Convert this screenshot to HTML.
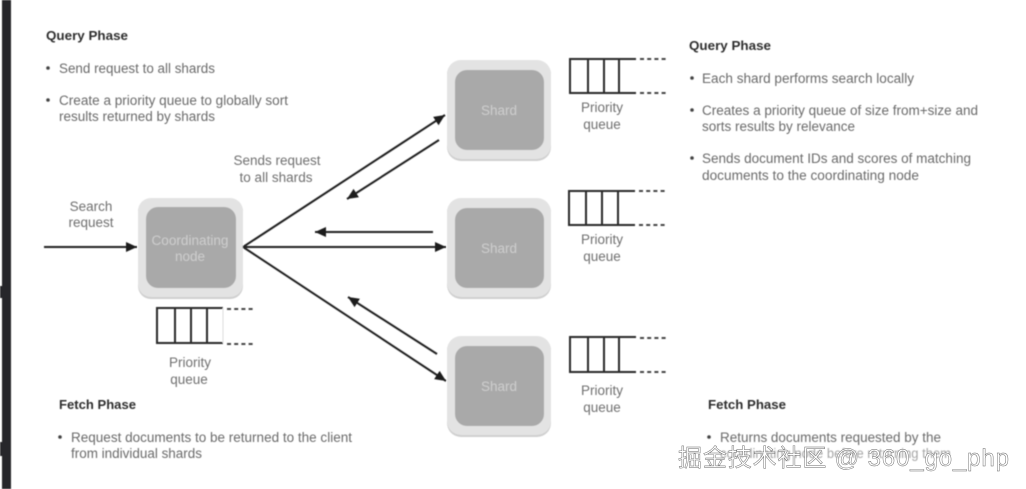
<!DOCTYPE html>
<html><head><meta charset="utf-8"><style>
html,body{margin:0;padding:0;background:#fff;width:1026px;height:489px;overflow:hidden}
svg{display:block}
text{font-family:"Liberation Sans","Noto Sans CJK SC",sans-serif}
.t{font-size:13.5px;fill:#6a6a6a}
.b{font-size:13px;font-weight:bold;fill:#2f2f2f}
.c{font-size:13.5px;fill:#707070;text-anchor:middle}
.w{font-size:13.5px;fill:#cdcdcd;text-anchor:middle}
.l{stroke:#222;stroke-width:2;fill:none}
.q{stroke:#2a2a2a;stroke-width:2;fill:none}
.d{stroke:#444;stroke-width:2;stroke-dasharray:4 3.2;fill:none}
.o{fill:#e3e3e3}
.s{fill:#cfcfcf}
.i{fill:#a9a9a9}
</style></head><body>
<svg width="1026" height="489" viewBox="0 0 1026 489" xmlns="http://www.w3.org/2000/svg">
<defs>
<filter id="f" x="-5%" y="-5%" width="110%" height="110%"><feGaussianBlur stdDeviation="0.6"/></filter>
<filter id="g" x="-5%" y="-20%" width="110%" height="140%"><feGaussianBlur stdDeviation="0.25"/></filter>
<marker id="a" markerWidth="13" markerHeight="11" refX="11" refY="5" orient="auto" markerUnits="userSpaceOnUse"><path d="M0 0L11 5L0 10Z" fill="#1a1a1a"/></marker>
</defs>
<rect width="1026" height="489" fill="#fff"/>
<g filter="url(#f)">
<rect x="2" y="0" width="9" height="489" fill="#25252a"/>
<rect x="0" y="286" width="3" height="12" fill="#25252a"/>
<rect x="0" y="442" width="3" height="14" fill="#25252a"/>

<!-- Left query text -->
<text class="b" x="46" y="40" textLength="82" lengthAdjust="spacingAndGlyphs">Query Phase</text>
<circle cx="48" cy="68" r="1.8" fill="#444"/>
<text class="t" x="59" y="73" textLength="156" lengthAdjust="spacingAndGlyphs">Send request to all shards</text>
<circle cx="48" cy="100" r="1.8" fill="#444"/>
<text class="t" x="59" y="105" textLength="229" lengthAdjust="spacingAndGlyphs">Create a priority queue to globally sort</text>
<text class="t" x="59" y="121" textLength="156" lengthAdjust="spacingAndGlyphs">results returned by shards</text>

<text class="c" x="277" y="165" textLength="87" lengthAdjust="spacingAndGlyphs">Sends request</text>
<text class="c" x="276" y="182" textLength="73" lengthAdjust="spacingAndGlyphs">to all shards</text>
<text class="c" x="91" y="211">Search</text>
<text class="c" x="91" y="227">request</text>

<!-- Coordinating node -->
<rect class="s" x="138" y="199" width="105" height="100" rx="13"/>
<rect class="o" x="138" y="198" width="105" height="99" rx="13"/>
<rect class="i" x="146" y="207" width="90" height="81" rx="12"/>
<text class="w" x="190" y="245" textLength="77" lengthAdjust="spacingAndGlyphs">Coordinating</text>
<text class="w" x="190" y="261">node</text>

<!-- Coordinating queue -->
<path class="q" d="M223 308H157V343H223M175 308V343M191 308V343M207 308V343"/>
<path d="M223 308V343" stroke="#ddd" stroke-width="1"/>
<path class="d" d="M227 309H254M227 344H254"/>
<text class="c" x="190" y="367">Priority</text>
<text class="c" x="189" y="384">queue</text>

<!-- Shards -->
<rect class="s" x="447" y="61" width="104" height="100" rx="14"/>
<rect class="o" x="447" y="60" width="104" height="99" rx="14"/>
<rect class="i" x="455" y="70" width="89" height="80" rx="12"/>
<text class="w" x="499" y="115">Shard</text>
<rect class="s" x="447" y="199" width="104" height="100" rx="14"/>
<rect class="o" x="447" y="198" width="104" height="99" rx="14"/>
<rect class="i" x="455" y="208" width="89" height="80" rx="12"/>
<text class="w" x="499" y="253">Shard</text>
<rect class="s" x="447" y="337" width="104" height="100" rx="14"/>
<rect class="o" x="447" y="336" width="104" height="99" rx="14"/>
<rect class="i" x="455" y="346" width="89" height="80" rx="12"/>
<text class="w" x="499" y="391">Shard</text>

<!-- Shard queues -->
<path class="q" d="M636 59H570V93H636M588 59V93M604 59V93M619 59V93"/>
<path class="d" d="M640 59H667M640 93H667"/>
<text class="c" x="602" y="112">Priority</text>
<text class="c" x="602" y="129">queue</text>
<path class="q" d="M635 191H569V225H635M586 191V225M602 191V225M618 191V225"/>
<path class="d" d="M639 191H666M639 225H666"/>
<text class="c" x="602" y="244">Priority</text>
<text class="c" x="602" y="261">queue</text>
<path class="q" d="M636 337H570V372H636M588 337V372M604 337V372M619 337V372"/>
<path class="d" d="M640 338H667M640 372H667"/>
<text class="c" x="602" y="395">Priority</text>
<text class="c" x="602" y="412">queue</text>

<!-- Arrows -->
<line class="l" x1="44" y1="247" x2="137" y2="247" marker-end="url(#a)"/>
<line class="l" x1="243" y1="247" x2="445" y2="115" marker-end="url(#a)"/>
<line class="l" x1="243" y1="247" x2="446" y2="247" marker-end="url(#a)"/>
<line class="l" x1="243" y1="247" x2="446" y2="381" marker-end="url(#a)"/>
<line class="l" x1="439" y1="140" x2="347" y2="199" marker-end="url(#a)"/>
<line class="l" x1="433" y1="232" x2="315" y2="232" marker-end="url(#a)"/>
<line class="l" x1="437" y1="354" x2="348" y2="297" marker-end="url(#a)"/>

<!-- Left fetch -->
<text class="b" x="59" y="409" textLength="77" lengthAdjust="spacingAndGlyphs">Fetch Phase</text>
<circle cx="60" cy="437" r="1.8" fill="#444"/>
<text class="t" x="71" y="442" textLength="281" lengthAdjust="spacingAndGlyphs">Request documents to be returned to the client</text>
<text class="t" x="71" y="458" textLength="131" lengthAdjust="spacingAndGlyphs">from individual shards</text>

<!-- Right query -->
<text class="b" x="689" y="50" textLength="82" lengthAdjust="spacingAndGlyphs">Query Phase</text>
<circle cx="692" cy="78" r="1.8" fill="#444"/>
<text class="t" x="702" y="83" textLength="212" lengthAdjust="spacingAndGlyphs">Each shard performs search locally</text>
<circle cx="692" cy="110" r="1.8" fill="#444"/>
<text class="t" x="702" y="115" textLength="276" lengthAdjust="spacingAndGlyphs">Creates a priority queue of size from+size and</text>
<text class="t" x="702" y="131" textLength="153" lengthAdjust="spacingAndGlyphs">sorts results by relevance</text>
<circle cx="692" cy="158" r="1.8" fill="#444"/>
<text class="t" x="702" y="163" textLength="269" lengthAdjust="spacingAndGlyphs">Sends document IDs and scores of matching</text>
<text class="t" x="702" y="180" textLength="217" lengthAdjust="spacingAndGlyphs">documents to the coordinating node</text>

<!-- Right fetch -->
<text class="b" x="708" y="409" textLength="78" lengthAdjust="spacingAndGlyphs">Fetch Phase</text>
<circle cx="709" cy="437" r="1.8" fill="#444"/>
<text class="t" x="720" y="442" textLength="221" lengthAdjust="spacingAndGlyphs">Returns documents requested by the</text>
<text class="t" x="720" y="458" textLength="231" lengthAdjust="spacingAndGlyphs" opacity="0.6">coordinating node before returning them</text>
</g>

<!-- Watermark -->
<g filter="url(#g)">
<text x="678" y="466" font-size="24" fill="#fff" stroke="#666" stroke-width="0.45" textLength="331" lengthAdjust="spacing">掘金技术社区 @ 360_go_php</text>
</g>
</svg>
</body></html>
